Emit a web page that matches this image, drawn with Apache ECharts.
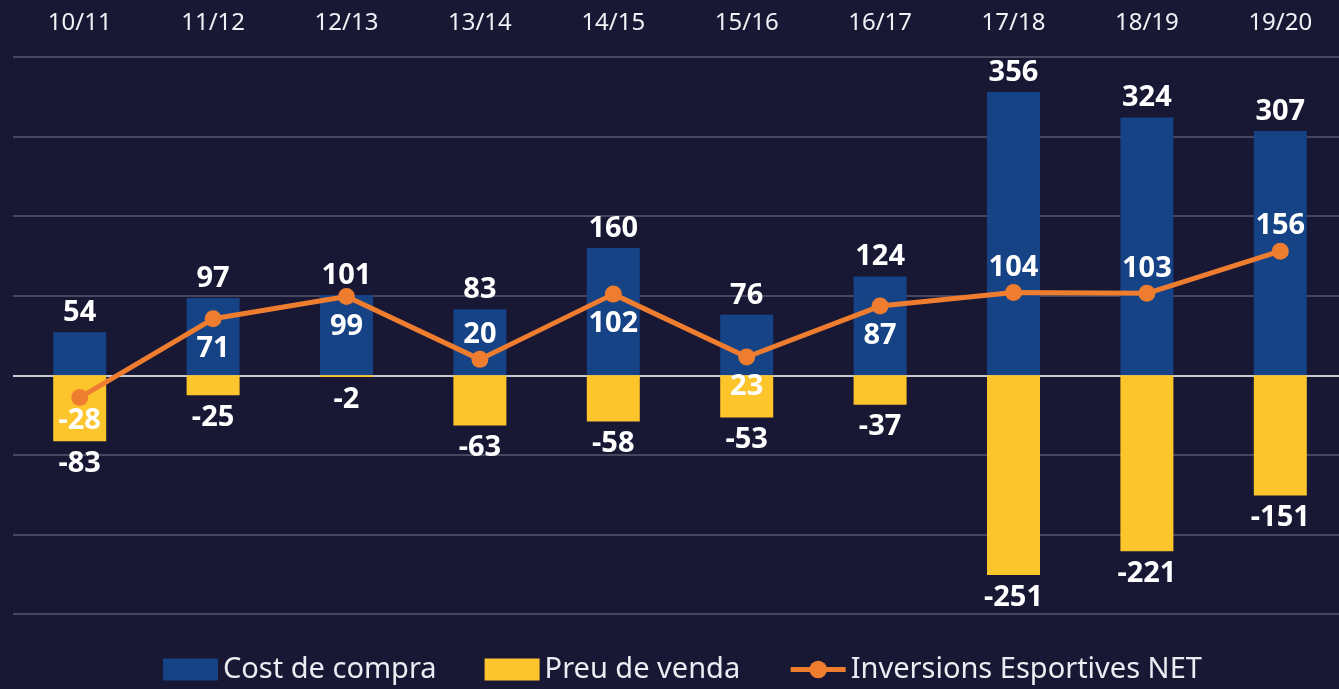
<!DOCTYPE html>
<html>
<head>
<meta charset="utf-8">
<script src="https://cdn.jsdelivr.net/npm/echarts@6/dist/echarts.min.js"></script>
<style>
    html, body { margin: 0; padding: 0; background: #181734; }
    #chart { width: 1339px; height: 689px; }
</style>
</head>
<body>
<div id="chart"></div>
<script>
var seasons = ['10/11', '11/12', '12/13', '13/14', '14/15', '15/16', '16/17', '17/18', '18/19', '19/20'];
var costCompra = [54, 97, 101, 83, 160, 76, 124, 356, 324, 307];
var preuVenda = [-83, -25, -2, -63, -58, -53, -37, -251, -221, -151];
var netInversions = [-28, 71, 99, 20, 102, 23, 87, 104, 103, 156];

var blueColor = '#154385';
var yellowColor = '#fdc52c';
var orangeColor = '#ee7d30';
var fontFamily = '"Noto Sans", "Open Sans", sans-serif';

// points whose label sits above the marker
var labelAbove = [3, 7, 8, 9];

function initChart() {
    var myChart = echarts.init(document.getElementById('chart'));

    var netData = netInversions.map(function (v, i) {
        var above = labelAbove.indexOf(i) >= 0;
        return {
            value: v,
            label: {position: above ? 'top' : 'bottom', distance: above ? 2 : (i === 0 ? 0 : 7)}
        };
    });

    var gridColors = ['#46465f', '#46465f', '#46465f', '#c9c9d2', '#46465f', '#46465f', '#46465f', '#46465f'];

    var option = {
        backgroundColor: '#181734',
        textStyle: {fontFamily: fontFamily},
        grid: {left: 13, width: 1334, top: 57, bottom: 75, outerBoundsMode: 'none', containLabel: false},
        legend: {
            bottom: 0,
            left: 158,
            itemWidth: 55,
            itemHeight: 22,
            itemGap: 48,
            textStyle: {color: '#ececf2', fontSize: 29, fontFamily: fontFamily},
            data: [
                {name: 'Cost de compra', icon: 'rect'},
                {name: 'Preu de venda', icon: 'rect'},
                {name: 'Inversions Esportives NET', lineStyle: {width: 5}}
            ]
        },
        xAxis: {
            type: 'category',
            position: 'top',
            data: seasons,
            axisLine: {show: false},
            axisTick: {show: false},
            axisLabel: {color: '#f0f0f5', fontSize: 24, margin: 22}
        },
        yAxis: {
            type: 'value',
            min: -300,
            max: 400,
            interval: 100,
            axisLabel: {show: false},
            axisLine: {show: false},
            axisTick: {show: false},
            splitLine: {lineStyle: {color: gridColors, width: 2}}
        },
        series: [
            {
                name: 'Cost de compra',
                type: 'bar',
                data: costCompra,
                barWidth: 53,
                barGap: '-100%',
                itemStyle: {color: blueColor},
                label: {
                    show: true,
                    position: 'top',
                    distance: 5,
                    color: '#ffffff',
                    fontSize: 29,
                    fontWeight: 'bold'
                }
            },
            {
                name: 'Preu de venda',
                type: 'bar',
                data: preuVenda,
                barWidth: 53,
                barGap: '-100%',
                itemStyle: {color: yellowColor},
                label: {
                    show: true,
                    position: 'bottom',
                    distance: 8,
                    color: '#ffffff',
                    fontSize: 29,
                    fontWeight: 'bold'
                }
            },
            {
                name: 'Inversions Esportives NET',
                type: 'line',
                data: netData,
                z: 5,
                symbol: 'circle',
                symbolSize: 17,
                itemStyle: {color: orangeColor},
                lineStyle: {color: orangeColor, width: 5},
                label: {
                    show: true,
                    color: '#ffffff',
                    fontSize: 29,
                    fontWeight: 'bold'
                }
            }
        ]
    };

    myChart.setOption(option);
}

initChart();
</script>
</body>
</html>
